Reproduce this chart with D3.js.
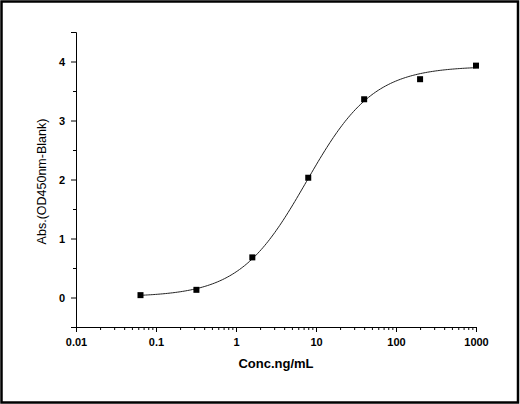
<!DOCTYPE html>
<html>
<head>
<meta charset="utf-8">
<script src="https://cdn.jsdelivr.net/npm/d3@7"></script>
<style>
  body { margin: 0; background: #fff; }
  svg { display: block; }
</style>
</head>
<body>
<div id="chart"></div>
<script>
"use strict";

// standard dilution series (ng/mL) and measured OD450 - blank
const concentrations = [0.064, 0.32, 1.6, 8, 40, 200, 1000];
const absorbances = [0.04, 0.13, 0.68, 2.03, 3.36, 3.70, 3.93];

// 4-parameter logistic fit: [A, B, C, D]
const fitParams = [0.01, 1.04, 7.6, 3.92];

const xTicks = [0.01, 0.1, 1, 10, 100, 1000];
const xTickLabels = ["0.01", "0.1", "1", "10", "100", "1000"];
const yTicks = [0, 1, 2, 3, 4];

const W = 520, H = 404;
const margin = {left: 76, right: 44, top: 32, bottom: 77};

const svg = d3.select("#chart").append("svg")
    .attr("width", W)
    .attr("height", H);

svg.append("rect")
    .attr("x", 1.5).attr("y", 1.5)
    .attr("width", W - 3.5).attr("height", H - 3)
    .attr("fill", "#fff")
    .attr("stroke", "#000")
    .attr("stroke-width", 2.5);

const x = d3.scaleLog().domain([0.01, 1000]).range([margin.left, W - margin.right]);
const y = d3.scaleLinear().domain([-0.5, 4.5]).range([H - margin.bottom, margin.top]);

const fontFam = "'Liberation Sans', Arial, sans-serif";

// minor ticks for the log axis: 2..9 in each decade
const xMinor = [];
xTicks.slice(0, -1).forEach(d => {
    for (let k = 2; k <= 9; k++) xMinor.push(d * k);
});
const yMinor = d3.range(-0.5, 4.6, 1);

const gx = svg.append("g").attr("transform", "translate(0," + (H - margin.bottom) + ")");
gx.call(d3.axisBottom(x).tickValues(xTicks).tickFormat((d, i) => xTickLabels[i]).tickSizeOuter(0).tickSize(5).tickPadding(6));
gx.append("g").call(d3.axisBottom(x).tickValues(xMinor).tickFormat("").tickSizeOuter(0).tickSize(3))
    .select(".domain").remove();

const gy = svg.append("g").attr("transform", "translate(" + margin.left + ",0)");
gy.call(d3.axisLeft(y).tickValues(yTicks).tickFormat(d3.format("d")).tickSizeOuter(0).tickSize(5).tickPadding(6));
gy.append("g").call(d3.axisLeft(y).tickValues(yMinor).tickFormat("").tickSizeOuter(0).tickSize(3))
    .select(".domain").remove();

svg.selectAll(".tick text")
    .attr("font-family", fontFam)
    .attr("font-size", 11)
    .attr("font-weight", "bold")
    .attr("fill", "#000");
svg.selectAll(".domain, .tick line").attr("stroke", "#000").attr("stroke-width", 1);

// fitted curve
const [A, B, C, D] = fitParams;
const logistic = c => D + (A - D) / (1 + Math.pow(c / C, B));
const lo = Math.log10(d3.min(concentrations)), hi = Math.log10(d3.max(concentrations));
const curvePts = d3.range(0, 201).map(i => {
    const c = Math.pow(10, lo + (hi - lo) * i / 200);
    return [c, logistic(c)];
});
svg.append("path")
    .datum(curvePts)
    .attr("fill", "none")
    .attr("stroke", "#222")
    .attr("stroke-width", 1)
    .attr("d", d3.line().x(d => x(d[0])).y(d => y(d[1])));

// data points
svg.selectAll("rect.pt")
    .data(concentrations)
    .enter().append("rect")
    .attr("class", "pt")
    .attr("x", d => x(d) - 3)
    .attr("y", (d, i) => y(absorbances[i]) - 3)
    .attr("width", 6)
    .attr("height", 6)
    .attr("fill", "#000");

// axis titles
svg.append("text")
    .attr("x", (margin.left + W - margin.right) / 2)
    .attr("y", 368)
    .attr("text-anchor", "middle")
    .attr("font-family", fontFam)
    .attr("font-size", 13)
    .attr("font-weight", "bold")
    .text("Conc.ng/mL");

svg.append("text")
    .attr("transform", "translate(46," + ((margin.top + H - margin.bottom) / 2 + 2) + ")rotate(-90)")
    .attr("text-anchor", "middle")
    .attr("font-family", fontFam)
    .attr("font-size", 12.5)
    .text("Abs.(OD450nm-Blank)");
</script>
</body>
</html>
